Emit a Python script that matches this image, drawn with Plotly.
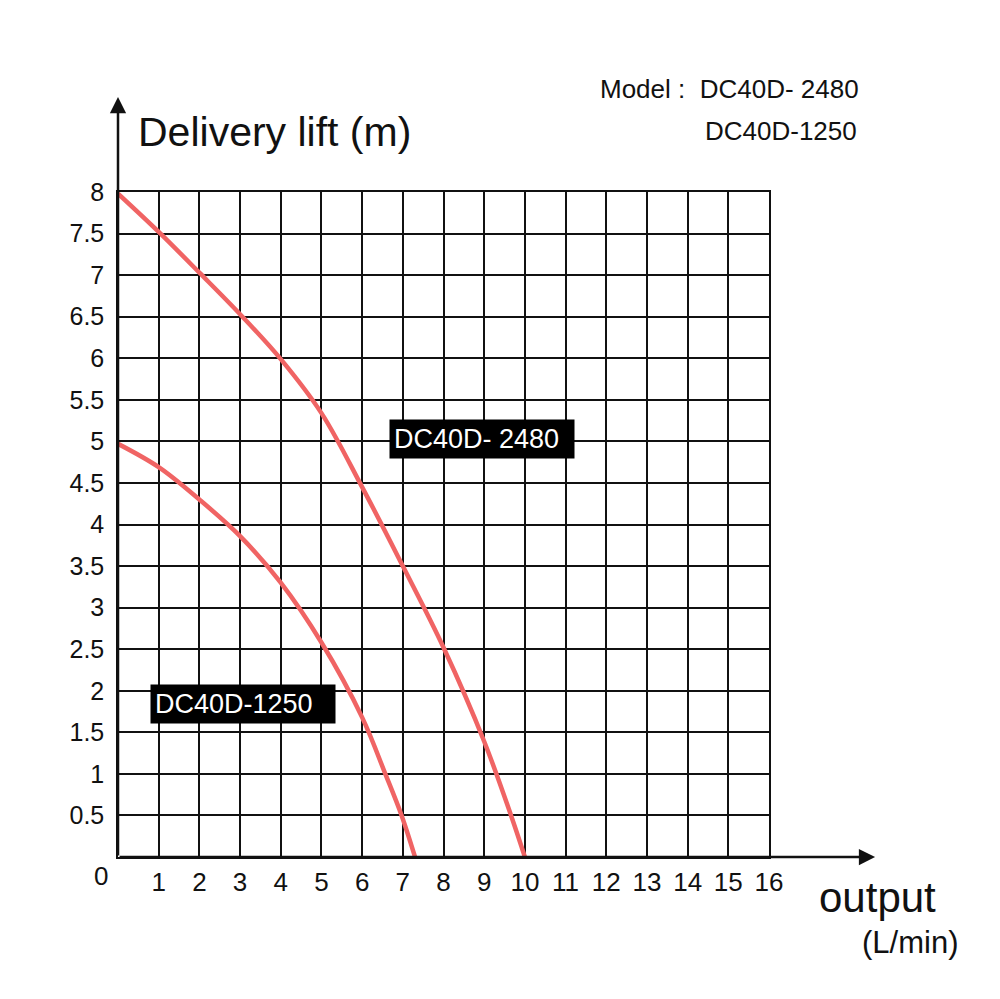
import plotly.graph_objects as go

# ---- data ----
flow_2480 = [0, 1, 2, 3, 4, 5, 6, 7, 8, 9, 9.66, 10]
lift_2480 = [7.98, 7.52, 7.03, 6.53, 5.99, 5.34, 4.45, 3.5, 2.52, 1.39, 0.5, 0]

flow_1250 = [0, 1, 2, 3, 4, 5, 6, 6.57, 6.97, 7.3]
lift_1250 = [4.97, 4.69, 4.30, 3.86, 3.3, 2.58, 1.68, 1.0, 0.5, 0]

x_ticks = list(range(1, 17))
x_tick_labels = [str(v) for v in x_ticks]
y_ticks = [i * 0.5 for i in range(1, 17)]
y_tick_labels = ["0.5", "1", "1.5", "2", "2.5", "3", "3.5", "4", "4.5", "5",
                 "5.5", "6", "6.5", "7", "7.5", "8"]

series_names = ["DC40D- 2480", "DC40D-1250"]
label_pos = [(8.94, 5.03), (3.07, 1.84)]

FONT = "Liberation Sans, Arial, sans-serif"
RED = "#F06464"
INK = "#111111"

fig = go.Figure()
fig.add_trace(go.Scatter(x=flow_2480, y=lift_2480, mode="lines",
                         line=dict(color=RED, width=4.5, shape="spline", smoothing=1.0),
                         name=series_names[0], showlegend=False))
fig.add_trace(go.Scatter(x=flow_1250, y=lift_1250, mode="lines",
                         line=dict(color=RED, width=4.5, shape="spline", smoothing=1.0),
                         name=series_names[1], showlegend=False))

fig.update_layout(
    width=1000, height=999,
    margin=dict(l=118, r=231, t=192, b=142, pad=0),
    paper_bgcolor="white", plot_bgcolor="white",
    font=dict(family=FONT, color=INK),
    xaxis=dict(range=[0, 16], tickvals=x_ticks, ticktext=x_tick_labels,
               showgrid=True, gridcolor=INK, gridwidth=1.5,
               showline=True, mirror=True, linecolor=INK, linewidth=1.5,
               zeroline=False, ticks="",
               ticklabelstandoff=1,
               tickfont=dict(size=26, family=FONT, color=INK),
               fixedrange=True),
    yaxis=dict(range=[0, 8], tickvals=y_ticks, ticktext=y_tick_labels,
               showgrid=True, gridcolor=INK, gridwidth=1.5,
               showline=True, mirror=True, linecolor=INK, linewidth=1.5,
               zeroline=False, ticks="",
               ticklabelstandoff=7,
               tickfont=dict(size=25, family=FONT, color=INK),
               fixedrange=True),
)

annotations = []
# axis arrows
annotations.append(dict(xref="paper", yref="paper", x=0, y=1.143, ax=0, ay=760,
                        axref="pixel", ayref="pixel", text="", showarrow=True,
                        arrowhead=2, arrowsize=1.3, arrowwidth=2.5, arrowcolor=INK))
annotations.append(dict(xref="paper", yref="paper", x=1.163, y=0, ax=-757, ay=0,
                        axref="pixel", ayref="pixel", text="", showarrow=True,
                        arrowhead=2, arrowsize=1.3, arrowwidth=2.5, arrowcolor=INK))
# origin label
annotations.append(dict(xref="paper", yref="paper", x=-0.026, y=-0.029, text="0",
                        showarrow=False, font=dict(size=26, family=FONT, color=INK),
                        xanchor="center", yanchor="middle"))
# axis titles
annotations.append(dict(xref="paper", yref="paper", x=(136 - 118) / 651, y=(857 - 132) / 665,
                        text="Delivery lift (m)", showarrow=False, xanchor="left", yanchor="middle",
                        font=dict(size=41, family=FONT, color=INK)))
annotations.append(dict(xref="paper", yref="paper", x=(877 - 118) / 651, y=(857 - 897) / 665,
                        text="output", showarrow=False, xanchor="center", yanchor="middle",
                        font=dict(size=42, family=FONT, color=INK)))
annotations.append(dict(xref="paper", yref="paper", x=(910 - 118) / 651, y=(857 - 942) / 665,
                        text="(L/min)", showarrow=False, xanchor="center", yanchor="middle",
                        font=dict(size=31, family=FONT, color=INK)))
# model header
annotations.append(dict(xref="paper", yref="paper", x=(861 - 118) / 651, y=(857 - 89) / 665,
                        text="Model :  " + series_names[0], showarrow=False,
                        xanchor="right", yanchor="middle",
                        font=dict(size=26, family=FONT, color=INK)))
annotations.append(dict(xref="paper", yref="paper", x=(859 - 118) / 651, y=(857 - 131) / 665,
                        text=series_names[1], showarrow=False,
                        xanchor="right", yanchor="middle",
                        font=dict(size=26, family=FONT, color=INK)))
# black curve labels
for name, (lx, ly) in zip(series_names, label_pos):
    annotations.append(dict(x=lx, y=ly, xref="x", yref="y", text=name, showarrow=False,
                            bgcolor="black", borderpad=4, width=176, align="left",
                            xanchor="center", yanchor="middle",
                            font=dict(size=27, family=FONT, color="white")))

fig.update_layout(annotations=annotations)
fig.write_html("out.html")
